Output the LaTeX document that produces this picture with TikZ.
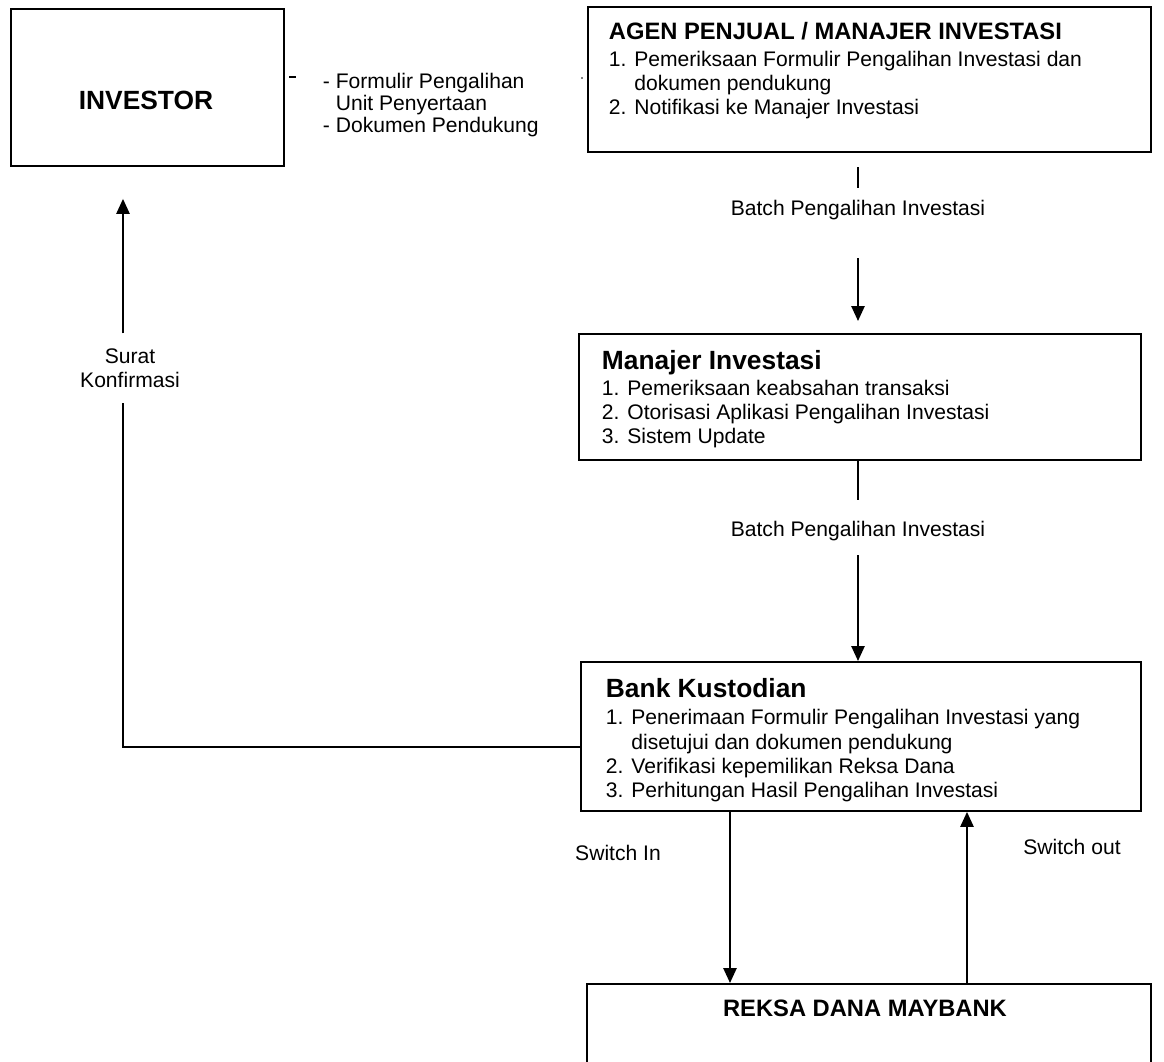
\documentclass[tikz,border=0pt]{standalone}
\usepackage{fontspec}
\setmainfont{Liberation Sans}
\usetikzlibrary{arrows.meta}

\begin{document}
\begin{tikzpicture}
[x=0.02cm,y=-0.02cm,line width=1.1pt,%
  box/.style={draw,rectangle,inner sep=0pt,anchor=north west},%
  txt/.style={inner sep=0pt,anchor=north west,align=left,font=\fontsize{12}{13.8}\selectfont},%
  lbl/.style={inner sep=0pt,align=center,font=\fontsize{12}{13.8}\selectfont},%
  head/.style={inner sep=0pt,font=\fontsize{13.5}{15}\selectfont\bfseries},%
  arr/.style={-{Triangle[width=7.5pt,length=8.5pt]}}]
\useasboundingbox (0,0) rectangle (1164,1062);
\clip (0,0) rectangle (1164,1062);

% boxes
\node[box,minimum width=5.46cm,minimum height=3.14cm] (investor) at (10,8) {};
\node[box,minimum width=11.26cm,minimum height=2.9cm] (agen) at (587,6) {};
\node[box,minimum width=11.24cm,minimum height=2.52cm] (mi) at (578,333) {};
\node[box,minimum width=11.2cm,minimum height=2.98cm] (bk) at (580,661) {};
\node[box,minimum width=11.28cm,minimum height=2.2cm] (reksa) at (586,983) {};

% texts in the boxes
\node[head,font=\fontsize{15}{17}\selectfont\bfseries] (investortxt) at (146,100) {INVESTOR};
\node[txt] (agentxt) at (608,21) {{\fontsize{13.5}{15}\selectfont\bfseries AGEN PENJUAL / MANAJER INVESTASI}\\[1.5pt]
  1. Pemeriksaan Formulir Pengalihan Investasi dan\\
  \hphantom{1. }dokumen pendukung\\
  2. Notifikasi ke Manajer Investasi};
\node[txt] (mitxt) at (601,349) {{\fontsize{15}{17}\selectfont\bfseries Manajer Investasi}\\[1pt]
  1. Pemeriksaan keabsahan transaksi\\
  2. Otorisasi Aplikasi Pengalihan Investasi\\
  3. Sistem Update};
\node[txt] (bktxt) at (605,677) {{\fontsize{15}{17}\selectfont\bfseries Bank Kustodian}\\[2pt]
  1. Penerimaan Formulir Pengalihan Investasi yang\\
  \hphantom{1. }disetujui dan dokumen pendukung\\
  2. Verifikasi kepemilikan Reksa Dana\\
  3. Perhitungan Hasil Pengalihan Investasi};
\node[head] (reksatxt) at (865,1008) {REKSA DANA MAYBANK};

% investor -> agen
\coordinate (stubA) at (289,77);
\coordinate (stubB) at (296,77);
\coordinate (dot) at (582,78);
\draw (stubA) -- (stubB);
\fill (dot) circle (0.5pt);
\node[txt,anchor=west,font=\fontsize{12}{12.5}\selectfont] (docs) at (322,105) {- Formulir Pengalihan\\
  \hphantom{- }Unit Penyertaan\\
  - Dokumen Pendukung};

% agen -> mi
\coordinate (a1) at (858,167);
\coordinate (a2) at (858,188);
\coordinate (a3) at (858,258);
\node[lbl] (batchA) at (858,210) {Batch Pengalihan Investasi};
\draw (a1) -- (a2);
\draw[arr,shorten >=0.24cm] (a3) -- (a3 |- mi.north);

% mi -> bk
\coordinate (b1) at (858,500);
\coordinate (b2) at (858,555);
\node[lbl] (batchB) at (858,531) {Batch Pengalihan Investasi};
\draw (b1 |- mi.south) -- (b1);
\draw[arr] (b2) -- (b2 |- bk.north);

% bk -> investor
\coordinate (sk) at (123,747);
\node[lbl,inner ysep=8pt] (surat) at (130,368) {Surat\\Konfirmasi};
\draw (sk -| bk.west) -- (sk) -- (sk |- surat.south);
\draw[arr,shorten >=0.64cm] (sk |- surat.north) -- (sk |- investor.south);

% bk <-> reksa
\coordinate (si) at (730,0);
\coordinate (so) at (967,0);
\draw[arr] (si |- bk.south) -- (si |- reksa.north);
\draw[arr] (so |- reksa.north) -- (so |- bk.south);
\node[lbl] (swin) at (618,853) {Switch In};
\node[lbl] (swout) at (1072,847) {Switch out};
\end{tikzpicture}
\end{document}
